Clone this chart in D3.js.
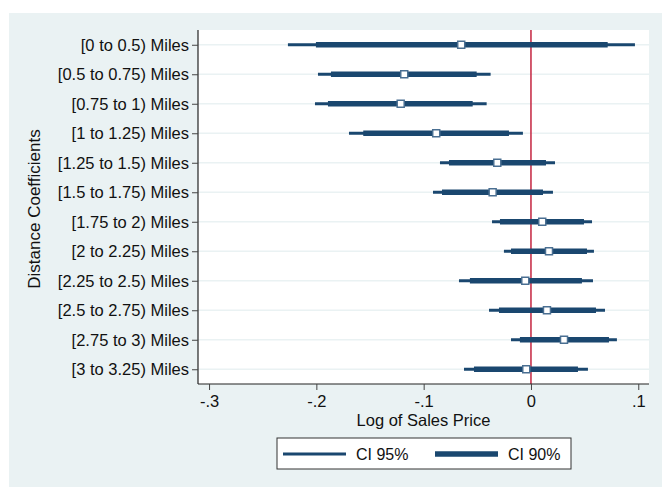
<!DOCTYPE html>
<html>
<head>
<meta charset="utf-8">
<script src="https://cdn.jsdelivr.net/npm/d3@7"></script>
<style>
  body { margin: 0; background: #fff; }
  svg { font-family: "Liberation Sans", Arial, sans-serif; }
</style>
</head>
<body>
<svg id="chart" width="662" height="487"></svg>
<script>
// distance bins, top to bottom
let bins = ['[0 to 0.5) Miles', '[0.5 to 0.75) Miles', '[0.75 to 1) Miles', '[1 to 1.25) Miles',
  '[1.25 to 1.5) Miles', '[1.5 to 1.75) Miles', '[1.75 to 2) Miles', '[2 to 2.25) Miles',
  '[2.25 to 2.5) Miles', '[2.5 to 2.75) Miles', '[2.75 to 3) Miles', '[3 to 3.25) Miles'];

let coef   = [-0.0650, -0.1181, -0.1214, -0.0883, -0.0314, -0.0357, 0.0105, 0.0168, -0.0053, 0.0149, 0.0308, -0.0044];
let lo95   = [-0.2265, -0.1985, -0.2013, -0.1696, -0.0848, -0.0913, -0.0363, -0.0252, -0.0671, -0.0391, -0.0186, -0.0624];
let hi95   = [0.0969, -0.0376, -0.0413, -0.0075, 0.0224, 0.0205, 0.0569, 0.0587, 0.0578, 0.0690, 0.0801, 0.0531];
let lo90   = [-0.2004, -0.1864, -0.1892, -0.1563, -0.0764, -0.0829, -0.0289, -0.0186, -0.0569, -0.0298, -0.0103, -0.0531];
let hi90   = [0.0715, -0.0506, -0.0543, -0.0205, 0.0140, 0.0112, 0.0494, 0.0522, 0.0475, 0.0606, 0.0727, 0.0438];

let x_ticks = [-0.3, -0.2, -0.1, 0, 0.1];
let x_tick_labels = ['-.3', '-.2', '-.1', '0', '.1'];

let navy = '#1a476f';
let panel_color = '#eaf2f3';
let ref_color = '#c4243f';

let plot = {left: 198, right: 649, top: 30, bottom: 384};

let svg = d3.select('#chart');

// outer panel
svg.append('rect')
  .attr('x', 9).attr('y', 13)
  .attr('width', 662 - 9).attr('height', 487 - 13)
  .attr('fill', panel_color);

svg.append('rect')
  .attr('x', plot.left).attr('y', plot.top)
  .attr('width', plot.right - plot.left).attr('height', plot.bottom - plot.top)
  .attr('fill', '#fff');

let x = d3.scaleLinear()
  .domain([-0.3103, 0.110])
  .range([plot.left, plot.right]);

let y = d3.scalePoint()
  .domain(bins)
  .range([plot.top, plot.bottom])
  .padding(0.5);

let rows = bins.map((b, i) => ({bin: b, coef: coef[i], lo95: lo95[i], hi95: hi95[i], lo90: lo90[i], hi90: hi90[i]}));

// grid lines
svg.selectAll('.grid')
  .data(bins)
  .enter().append('line')
  .attr('class', 'grid')
  .attr('x1', plot.left).attr('x2', plot.right)
  .attr('y1', d => y(d)).attr('y2', d => y(d))
  .attr('stroke', panel_color)
  .attr('stroke-width', 1.5);

// reference line at zero
svg.append('line')
  .attr('x1', x(0)).attr('x2', x(0))
  .attr('y1', plot.top).attr('y2', plot.bottom)
  .attr('stroke', ref_color)
  .attr('stroke-width', 1.5);

// CI 95% (thin)
svg.selectAll('.ci95')
  .data(rows)
  .enter().append('line')
  .attr('class', 'ci95')
  .attr('x1', d => x(d.lo95)).attr('x2', d => x(d.hi95))
  .attr('y1', d => y(d.bin)).attr('y2', d => y(d.bin))
  .attr('stroke', navy)
  .attr('stroke-width', 3);

// CI 90% (thick)
svg.selectAll('.ci90')
  .data(rows)
  .enter().append('line')
  .attr('class', 'ci90')
  .attr('x1', d => x(d.lo90)).attr('x2', d => x(d.hi90))
  .attr('y1', d => y(d.bin)).attr('y2', d => y(d.bin))
  .attr('stroke', navy)
  .attr('stroke-width', 5.5);

// point estimates
svg.selectAll('.pt')
  .data(rows)
  .enter().append('rect')
  .attr('class', 'pt')
  .attr('x', d => x(d.coef) - 3.5)
  .attr('y', d => y(d.bin) - 3.5)
  .attr('width', 7).attr('height', 7)
  .attr('fill', '#fff')
  .attr('stroke', '#4a6f92')
  .attr('stroke-width', 1.5);

// axes
let y_axis = svg.append('g')
  .attr('transform', `translate(${plot.left},0)`)
  .call(d3.axisLeft(y).tickSize(6).tickPadding(3).tickSizeOuter(0));

let x_axis = svg.append('g')
  .attr('transform', `translate(0,${plot.bottom})`)
  .call(d3.axisBottom(x).tickValues(x_ticks).tickFormat((d, i) => x_tick_labels[i])
    .tickSize(6).tickPadding(5).tickSizeOuter(0));

[y_axis, x_axis].forEach(g => {
  g.select('.domain').attr('stroke', '#222').attr('stroke-width', 1.2);
  g.selectAll('.tick line').attr('stroke', '#444').attr('stroke-width', 1);
  g.selectAll('.tick text').attr('fill', '#111').style('font-size', '16.5px');
});
y_axis.select('.domain').attr('d', `M0,${plot.top}V${plot.bottom}`);
x_axis.select('.domain').attr('d', `M${plot.left},0H${plot.right}`);

// axis titles
svg.append('text')
  .attr('x', (plot.left + plot.right) / 2)
  .attr('y', 426)
  .attr('text-anchor', 'middle')
  .style('font-size', '16.5px')
  .attr('fill', '#111')
  .text('Log of Sales Price');

svg.append('text')
  .attr('transform', `translate(40,${(plot.top + plot.bottom) / 2 + 2}) rotate(-90)`)
  .attr('text-anchor', 'middle')
  .style('font-size', '17px')
  .attr('fill', '#111')
  .text('Distance Coefficients');

// legend
let legend = svg.append('g');
legend.append('rect')
  .attr('x', 277).attr('y', 438)
  .attr('width', 294).attr('height', 31)
  .attr('fill', '#fff')
  .attr('stroke', '#333')
  .attr('stroke-width', 1);

let legend_items = [
  {label: 'CI 95%', width: 3, x0: 283, x1: 346, tx: 356},
  {label: 'CI 90%', width: 5.5, x0: 435, x1: 498, tx: 508}
];
legend_items.forEach(d => {
  legend.append('line')
    .attr('x1', d.x0).attr('x2', d.x1)
    .attr('y1', 454).attr('y2', 454)
    .attr('stroke', navy)
    .attr('stroke-width', d.width);
  legend.append('text')
    .attr('x', d.tx).attr('y', 460)
    .style('font-size', '16px')
    .attr('fill', '#111')
    .text(d.label);
});
</script>
</body>
</html>
